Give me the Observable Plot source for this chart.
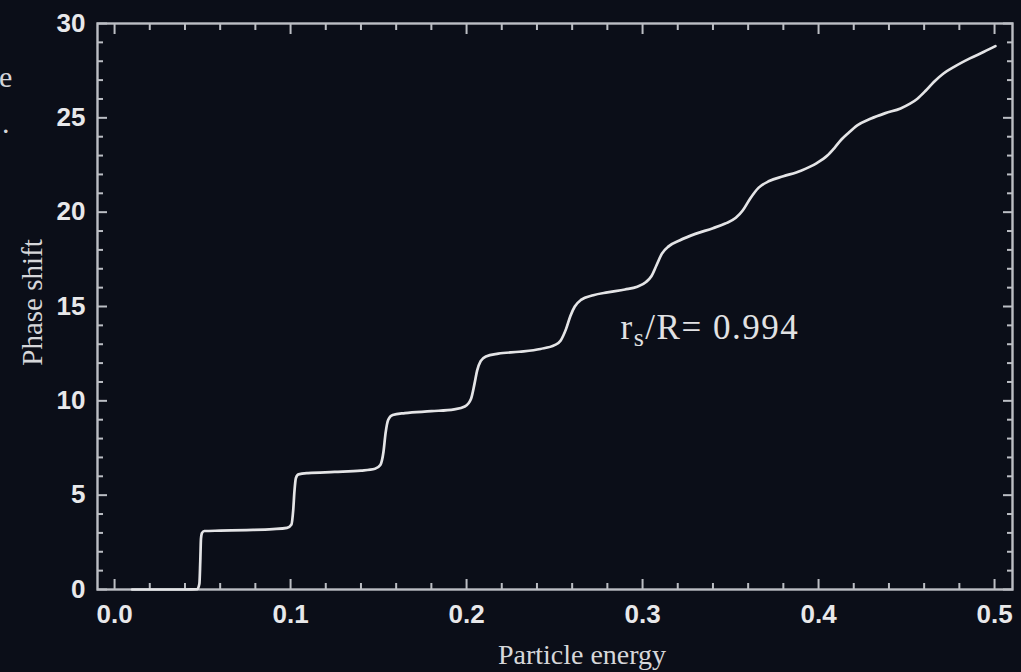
<!DOCTYPE html>
<html><head><meta charset="utf-8">
<script src="https://cdn.jsdelivr.net/npm/d3@7"></script>
<script src="https://cdn.jsdelivr.net/npm/@observablehq/plot@0.6"></script>
<style>
html,body{margin:0;padding:0;background:#0b0e18;}
#wrap{position:relative;width:1021px;height:672px;overflow:hidden;background:#0b0e18;}
#cut{position:absolute;left:0;top:0;font-family:"Liberation Serif",serif;font-size:30px;color:#d4d5d8;line-height:46px;}
#cut span{position:absolute;left:0;white-space:nowrap;}
</style></head><body>
<div id="wrap"><div id="chart"></div><div id="cut"></div></div>
<script>
// ---- data ----
const energy = [
  0.010, 0.040, 0.0470, 0.0482, 0.0487, 0.0491, 0.0497, 0.0510, 0.060, 0.075, 0.090, 0.098,
  0.1005, 0.1015, 0.1022, 0.1030, 0.1045, 0.110, 0.125, 0.140, 0.148,
  0.1510, 0.1528, 0.1540, 0.1555, 0.1580, 0.165, 0.180, 0.193, 0.199,
  0.2025, 0.2045, 0.2060, 0.2080, 0.2110, 0.218, 0.230, 0.242, 0.250,
  0.2535, 0.2565, 0.2590, 0.2615, 0.2650, 0.272, 0.280, 0.290, 0.297,
  0.3020, 0.3050, 0.3080, 0.3110, 0.3150, 0.3210, 0.3300, 0.3400, 0.3470,
  0.3530, 0.3570, 0.3610, 0.3660, 0.3720, 0.3800, 0.3900, 0.3990,
  0.4050, 0.4090, 0.4130, 0.4170, 0.4220, 0.4295, 0.4380, 0.4466,
  0.4520, 0.4560, 0.4610, 0.4655, 0.4710, 0.4770, 0.4860, 0.4940, 0.5005
];
const phase = [
  0.00, 0.00, 0.02, 0.30, 1.50, 2.70, 3.00, 3.10, 3.12, 3.15, 3.20, 3.27,
  3.45, 4.20, 5.20, 5.90, 6.10, 6.17, 6.23, 6.30, 6.40,
  6.60, 7.30, 8.30, 9.00, 9.25, 9.35, 9.45, 9.55, 9.70,
  10.10, 10.90, 11.60, 12.10, 12.35, 12.50, 12.60, 12.75, 12.95,
  13.20, 13.80, 14.50, 15.00, 15.35, 15.60, 15.75, 15.90, 16.05,
  16.30, 16.60, 17.20, 17.80, 18.20, 18.50, 18.85, 19.15, 19.40,
  19.70, 20.10, 20.70, 21.30, 21.65, 21.90, 22.20, 22.60,
  23.00, 23.40, 23.85, 24.20, 24.60, 24.95, 25.25, 25.50,
  25.75, 26.00, 26.45, 26.90, 27.35, 27.70, 28.15, 28.50, 28.80
];
const xMajorTicks = [0, 0.1, 0.2, 0.3, 0.4, 0.5];
const xTickLabels = ["0.0", "0.1", "0.2", "0.3", "0.4", "0.5"];
const xMinorTicks = [0.02, 0.04, 0.06, 0.08, 0.12, 0.14, 0.16, 0.18, 0.22, 0.24, 0.26, 0.28,
                     0.32, 0.34, 0.36, 0.38, 0.42, 0.44, 0.46, 0.48];
const yMajorTicks = [0, 5, 10, 15, 20, 25, 30];
const yMinorTicks = [1,2,3,4,6,7,8,9,11,12,13,14,16,17,18,19,21,22,23,24,26,27,28,29];
const xLabel = "Particle energy";
const yLabel = "Phase shift";
const annoBase = "r", annoSub = "s", annoRest = "/R= 0.994";
const annoEnergy = 0.2875, annoPhase = 13.3;
const cutText = ["e", "."];

// ---- styles ----
const bg = "#0b0e18";
const axisColor = "#bcbec4";
const tickFont = '"Liberation Sans", Arial, sans-serif';
const serif = '"Liberation Serif", "Times New Roman", serif';
const annoFull = annoBase + annoSub + annoRest;

const axisCommon = {stroke: axisColor, strokeWidth: 2, label: null};

const svg = Plot.plot({
  width: 1021,
  height: 672,
  marginLeft: 97,
  marginRight: 9,
  marginTop: 23,
  marginBottom: 83,
  style: {background: bg, color: "#e8e8ea"},
  x: {domain: [-0.0097, 0.5102], label: null},
  y: {domain: [0, 30], label: null},
  marks: [
    Plot.axisX(xMinorTicks, {...axisCommon, anchor: "bottom", tickSize: -6, fill: "none"}),
    Plot.axisX(xMinorTicks, {...axisCommon, anchor: "top", tickSize: -6, fill: "none"}),
    Plot.axisX(xMajorTicks, {...axisCommon, anchor: "top", tickSize: -10, fill: "none"}),
    Plot.axisX(xMajorTicks, {...axisCommon, anchor: "bottom", tickSize: -10, tickPadding: 25,
      fill: "#e8e8ea", tickFormat: (d, i) => xTickLabels[i],
      fontFamily: tickFont, fontSize: 26, fontWeight: "bold"}),
    Plot.axisY(yMinorTicks, {...axisCommon, anchor: "left", tickSize: -6, fill: "none"}),
    Plot.axisY(yMinorTicks, {...axisCommon, anchor: "right", tickSize: -6, fill: "none"}),
    Plot.axisY(yMajorTicks, {...axisCommon, anchor: "right", tickSize: -10, fill: "none"}),
    Plot.axisY(yMajorTicks, {...axisCommon, anchor: "left", tickSize: -10, tickPadding: 22,
      fill: "#e8e8ea", tickFormat: d => String(d),
      fontFamily: tickFont, fontSize: 26, fontWeight: "bold"}),
    Plot.frame({stroke: axisColor, strokeWidth: 2.4}),
    Plot.line({length: energy.length}, {x: energy, y: phase, curve: "monotone-x",
      stroke: "#e4e4e6", strokeWidth: 2.7}),
    Plot.text([annoFull], {x: () => annoEnergy, y: () => annoPhase, text: d => d,
      textAnchor: "start", lineAnchor: "bottom", fill: "#e2e2e4",
      fontFamily: serif, fontSize: 35}),
    Plot.text([xLabel], {frameAnchor: "bottom", text: d => d, dx: 27, dy: 74,
      textAnchor: "middle", lineAnchor: "bottom", fill: "#d6d7da", fontFamily: serif, fontSize: 28}),
    Plot.text([yLabel], {frameAnchor: "left", text: d => d, dx: -56, dy: -4, rotate: -90,
      textAnchor: "middle", lineAnchor: "bottom", fill: "#d6d7da", fontFamily: serif, fontSize: 29})
  ]
});

// subscript for the annotation
d3.select(svg).selectAll("text").filter(function () { return this.textContent === annoFull; })
  .each(function () {
    const t = d3.select(this);
    t.text(null).attr("letter-spacing", "1.5px");
    t.append("tspan").text(annoBase);
    t.append("tspan").attr("dy", 7).attr("font-size", 26).text(annoSub);
    t.append("tspan").attr("dy", -7).text(annoRest);
  });

document.getElementById("chart").appendChild(svg);

const cut = document.getElementById("cut");
cutText.forEach((s, i) => {
  const sp = document.createElement("span");
  sp.textContent = s;
  sp.style.top = (54 + i * 46) + "px";
  sp.style.left = (i === 0 ? -1 : 2) + "px";
  cut.appendChild(sp);
});
</script>
</body></html>
